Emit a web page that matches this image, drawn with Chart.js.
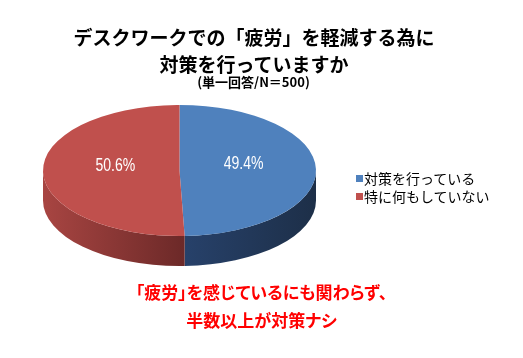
<!DOCTYPE html>
<html lang="ja">
<head>
<meta charset="utf-8">
<script src="https://cdn.jsdelivr.net/npm/chart.js@4.4.0/dist/chart.umd.min.js"></script>
<style>
  body { margin: 0; background: #fff; }
  #wrap { position: relative; width: 523px; height: 358px; font-family: "Noto Sans CJK JP", sans-serif; color: #000; }
  #pie { position: absolute; left: 0; top: 0; }
  .title { position: absolute; left: 0; width: 508px; top: 23px; text-align: center; font-size: 19px; line-height: 27px; font-weight: bold; }
  .sub { position: absolute; left: 0; width: 507px; top: 74px; text-align: center; font-size: 13px; line-height: 16px; font-weight: bold; }
  #legend { position: absolute; left: 356px; top: 169px; font-size: 14px; line-height: 18px; }
  #legend .row { display: flex; align-items: center; white-space: nowrap; }
  #legend .box { width: 7px; height: 7px; margin-right: 1px; }
  .note { position: absolute; left: 0; width: 523px; top: 278px; text-align: center; font-size: 17px; line-height: 28px; font-weight: bold; color: #ff0000; font-feature-settings: "palt"; }
</style>
</head>
<body>
<div id="wrap">
  <canvas id="pie" width="523" height="358"></canvas>
  <div class="title">デスクワークでの「疲労」を軽減する為に<br>対策を行っていますか</div>
  <div class="sub">(単一回答/N＝500)</div>
  <div id="legend"></div>
  <div class="note">「疲労」を感じているにも関わらず、<br>半数以上が対策ナシ</div>
</div>
<script>
const labels = ['対策を行っている', '特に何もしていない'];
const values = [49.4, 50.6];
const topColors = ['#4F81BD', '#C0504D'];
const sideFrom = ['#1d2f48', '#6c2928'];   // colour at slice start angle
const sideTo = ['#27416a', '#a84542'];     // colour at slice end angle

const TILT = 0.48;
const DEPTH = 30;

// fake 3D: squash the pie vertically and draw a side wall under the front half
const pie3d = {
  id: 'pie3d',
  beforeDatasetsDraw(chart) {
    const ctx = chart.ctx;
    const arcs = chart.getDatasetMeta(0).data;
    const cx = arcs[0].x, cy = arcs[0].y;
    const rx = arcs[0].outerRadius, ry = rx * TILT;

    arcs.forEach((arc, i) => {
      const a0 = Math.max(arc.startAngle, 0);
      const a1 = Math.min(arc.endAngle, Math.PI);
      if (a1 <= a0) return;
      const g = ctx.createLinearGradient(cx + rx * Math.cos(a0), 0, cx + rx * Math.cos(a1), 0);
      g.addColorStop(0, sideFrom[i]);
      g.addColorStop(1, sideTo[i]);
      ctx.beginPath();
      ctx.ellipse(cx, cy, rx, ry, 0, a0, a1);
      ctx.ellipse(cx, cy + DEPTH, rx, ry, 0, a1, a0, true);
      ctx.closePath();
      ctx.fillStyle = g;
      ctx.fill();
    });

    ctx.save();
    ctx.translate(cx, cy);
    ctx.scale(1, TILT);
    ctx.translate(-cx, -cy);
  },
  afterDatasetsDraw(chart) {
    const ctx = chart.ctx;
    ctx.restore();

    const arcs = chart.getDatasetMeta(0).data;
    arcs.forEach((arc, i) => {
      const mid = (arc.startAngle + arc.endAngle) / 2;
      const r = arc.outerRadius * 0.47;
      const x = arc.x + r * Math.cos(mid);
      const y = arc.y + r * Math.sin(mid) * TILT - 5.5;
      ctx.save();
      ctx.translate(x, y);
      ctx.scale(0.78, 1);   // narrow label face
      ctx.fillStyle = '#fff';
      ctx.font = '18px "Liberation Sans", Arial, sans-serif';
      ctx.textAlign = 'center';
      ctx.textBaseline = 'middle';
      ctx.fillText(values[i].toFixed(1) + '%', 0, 0);
      ctx.restore();
    });
  }
};

new Chart(document.getElementById('pie'), {
  type: 'pie',
  data: {
    labels: labels,
    datasets: [{
      data: values,
      backgroundColor: topColors,
      borderWidth: 0,
      clip: false
    }]
  },
  options: {
    responsive: false,
    animation: false,
    events: [],
    layout: { padding: { left: 43, right: 207, top: 34, bottom: 51 } },
    plugins: {
      legend: { display: false },
      tooltip: { enabled: false }
    }
  },
  plugins: [pie3d]
});

const legend = document.getElementById('legend');
labels.forEach((name, i) => {
  const row = document.createElement('div');
  row.className = 'row';
  row.innerHTML = `<span class="box" style="background:${topColors[i]}"></span><span>${name}</span>`;
  legend.appendChild(row);
});
</script>
</body>
</html>
